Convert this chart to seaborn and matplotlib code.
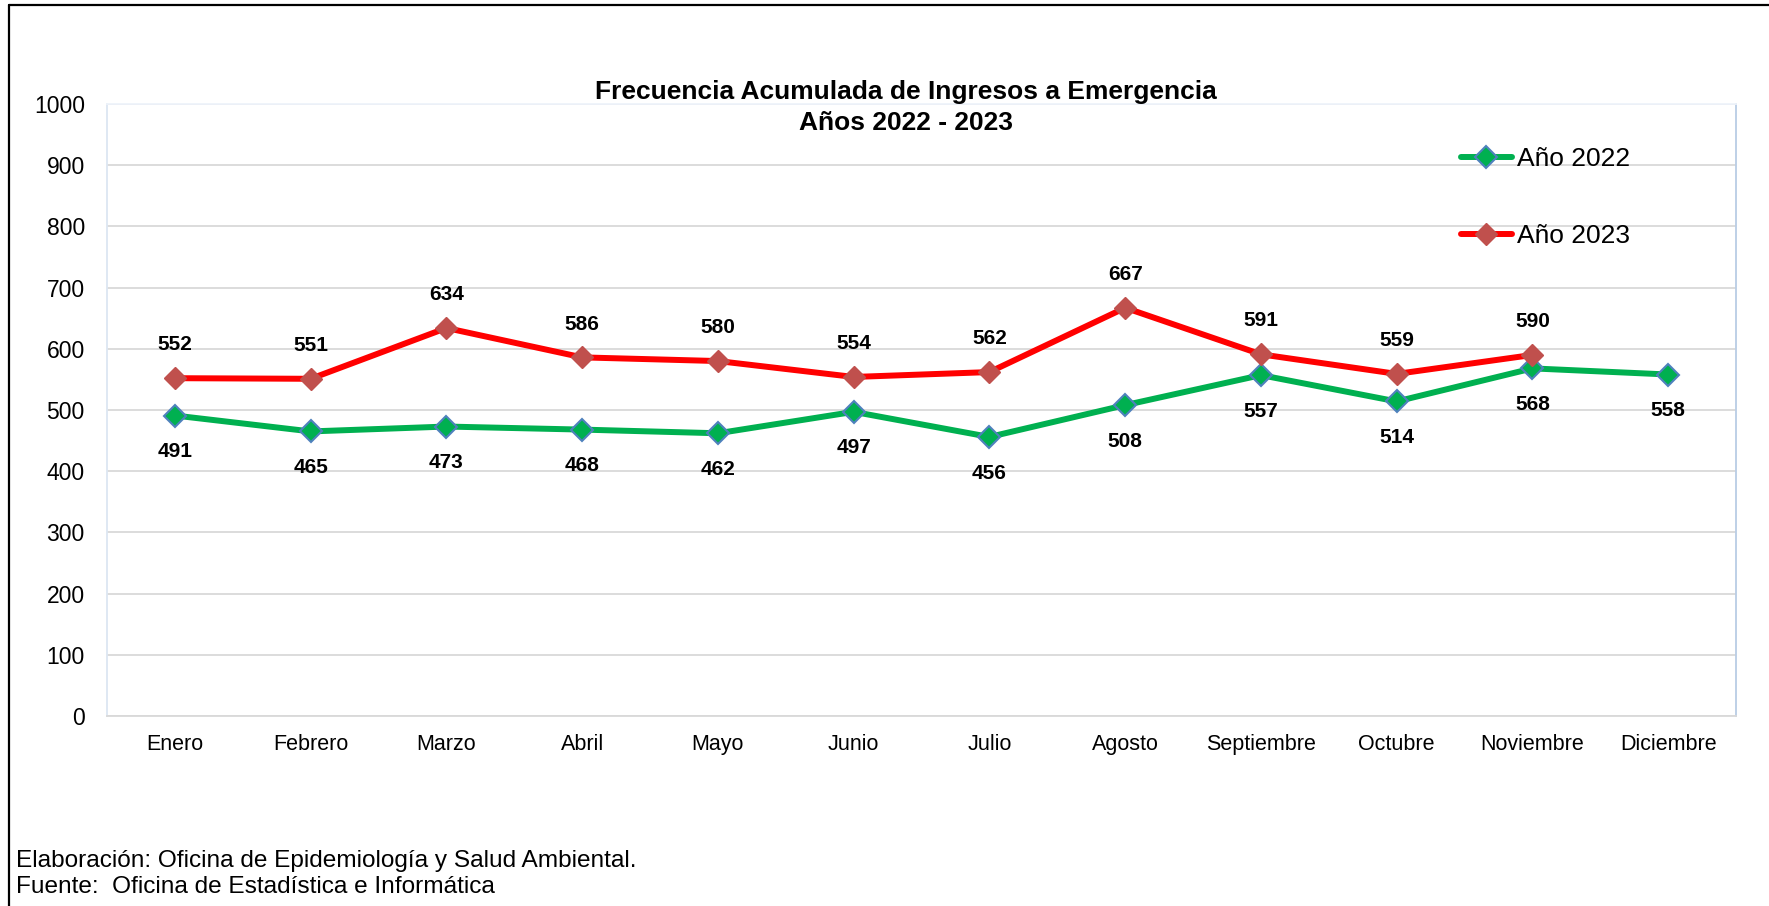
import matplotlib
matplotlib.use("Agg")
from matplotlib import pyplot as plt
from matplotlib.lines import Line2D
import pandas as pd
import seaborn as sns

meses = ['Enero', 'Febrero', 'Marzo', 'Abril', 'Mayo', 'Junio', 'Julio',
         'Agosto', 'Septiembre', 'Octubre', 'Noviembre', 'Diciembre']
anio_2022 = [491, 465, 473, 468, 462, 497, 456, 508, 557, 514, 568, 558]
anio_2023 = [552, 551, 634, 586, 580, 554, 562, 667, 591, 559, 590]

y_ticks = [0, 100, 200, 300, 400, 500, 600, 700, 800, 900, 1000]

sns.set_style("white")
plt.rcParams['font.family'] = ['Liberation Sans', 'DejaVu Sans']
plt.rcParams['text.color'] = 'black'
plt.rcParams['xtick.color'] = 'black'
plt.rcParams['ytick.color'] = 'black'

df22 = pd.DataFrame({'mes': meses, 'valor': anio_2022})
df23 = pd.DataFrame({'mes': meses[:len(anio_2023)], 'valor': anio_2023})

fig = plt.figure(figsize=(17.69, 9.06), dpi=100)
ax = fig.add_axes([0.0605, 0.2097, 0.9209, 0.6755])

sns.lineplot(data=df22, x='mes', y='valor', ax=ax, color='#00B050', lw=4.3,
             marker='D', markersize=11, markerfacecolor='#00B050',
             markeredgecolor='#4F81BD', markeredgewidth=1.5, label='Año 2022')
sns.lineplot(data=df23, x='mes', y='valor', ax=ax, color='#FF0000', lw=4.3,
             marker='D', markersize=11, markerfacecolor='#C0504D',
             markeredgecolor='#C0504D', markeredgewidth=1.0, label='Año 2023')

# etiquetas de datos
for m, v in zip(meses, anio_2022):
    ax.annotate(str(v), (m, v), xytext=(0, -26), textcoords='offset points',
                ha='center', va='center', fontsize=15, fontweight='bold')
for m, v in zip(meses, anio_2023):
    ax.annotate(str(v), (m, v), xytext=(0, 24), textcoords='offset points',
                ha='center', va='center', fontsize=15, fontweight='bold')

ax.set_xlim(-0.5, 11.5)
ax.set_ylim(0, 1000)
ax.set_yticks(y_ticks)
ax.set_xlabel('')
ax.set_ylabel('')
ax.grid(axis='y', color='#D9D9D9', lw=1.3)
ax.set_axisbelow(True)
ax.tick_params(axis='y', length=0, pad=16, labelsize=16.5)
ax.tick_params(axis='x', length=0, pad=13, labelsize=15.5)

ax.spines['left'].set_color('#DCE6F2')
ax.spines['right'].set_color('#B9CDE5')
ax.spines['top'].set_color('#EEF3FA')
ax.spines['bottom'].set_color('#D9D9D9')
for s in ax.spines.values():
    s.set_linewidth(1.3)

ax.legend(loc='upper left', bbox_to_anchor=(1461 / 1769, 1 - 147 / 906),
          bbox_transform=fig.transFigure, frameon=False, fontsize=19,
          handlelength=1.93, handletextpad=0.2, labelspacing=2.0,
          borderpad=0, borderaxespad=0)

fig.text(0.512, 0.881, 'Frecuencia Acumulada de Ingresos a Emergencia\nAños 2022 - 2023',
         ha='center', va='center', ma='center', fontsize=19, fontweight='bold',
         linespacing=1.35)

fig.text(16 / 1769, 1 - 861 / 906, 'Elaboración: Oficina de Epidemiología y Salud Ambiental.',
         ha='left', va='center', fontsize=17.6)
fig.text(16 / 1769, 1 - 887 / 906, 'Fuente:  Oficina de Estadística e Informática',
         ha='left', va='center', fontsize=17.6)

# marco exterior
fig.add_artist(Line2D([9 / 1769, 9 / 1769], [0, 1 - 5 / 906], color='black', lw=1.6,
                      transform=fig.transFigure))
fig.add_artist(Line2D([9 / 1769, 1], [1 - 5 / 906, 1 - 5 / 906], color='black', lw=1.6,
                      transform=fig.transFigure))

fig.savefig('out.png', dpi=100)
